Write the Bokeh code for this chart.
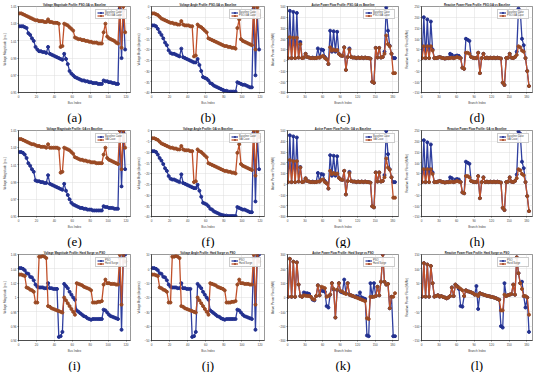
from bokeh.plotting import figure
from bokeh.layouts import gridplot
from bokeh.models import Title, Range1d, FixedTicker
from bokeh.embed import file_html
from bokeh.resources import INLINE

# ---------------- categories / ticks ----------------
bus_index = list(range(1, 120, 2))        # 60 buses (every second bus)
branch_index = list(range(1, 185, 3))     # 62 branches (every third branch)
bus_ticks = [0, 20, 40, 60, 80, 100, 120]
branch_ticks = [0, 30, 60, 90, 120, 150, 180]

# ---------------- row 1: PSO-GA vs Baseline ----------------
vm_base_a = [1.027, 1.027, 1.027, 1.026, 1.025, 1.019, 1.017, 1.013, 1.010, 1.003,
             1.000, 0.998, 0.998, 0.997, 0.997, 0.996, 1.003, 0.995, 0.994, 0.993,
             0.992, 0.991, 0.990, 0.989, 0.988, 0.995, 0.989, 0.983, 0.975, 0.972,
             0.970, 0.968, 0.967, 0.966, 0.965, 0.964, 0.964, 0.963, 0.963, 0.962,
             0.962, 0.961, 0.961, 0.961, 0.960, 0.960, 0.960, 0.964, 0.963, 0.963,
             0.962, 0.962, 0.961, 0.961, 0.960, 0.960, 1.048, 0.990, 1.045, 1.000]
vm_opt_a = [1.042, 1.042, 1.041, 1.040, 1.039, 1.038, 1.037, 1.036, 1.035, 1.034,
            1.034, 1.033, 1.033, 1.033, 1.032, 1.032, 1.035, 1.032, 1.032, 1.031,
            1.031, 1.031, 1.030, 1.003, 1.004, 1.030, 1.029, 1.028, 1.026, 1.024,
            1.022, 1.014, 1.013, 1.012, 1.012, 1.011, 1.011, 1.010, 1.010, 1.009,
            1.009, 1.008, 1.008, 1.008, 1.007, 1.007, 1.007, 1.020, 1.030, 1.015,
            1.013, 1.012, 1.011, 1.010, 1.008, 1.007, 1.050, 1.002, 1.050, 1.020]
va_base_b = [-8.8, -8.8, -9.2, -10.4, -12.0, -13.2, -14.8, -16.8, -18.0, -20.4,
             -21.6, -22.0, -22.0, -22.4, -22.8, -23.2, -19.6, -23.6, -24.0, -24.4,
             -24.8, -25.2, -25.6, -26.0, -26.0, -24.4, -27.2, -30.0, -32.8, -33.2,
             -33.6, -34.4, -35.6, -36.0, -36.8, -37.2, -37.6, -38.0, -38.4, -38.8,
             -39.2, -39.2, -39.6, -39.6, -39.6, -39.6, -39.6, -35.2, -35.6, -36.0,
             -36.4, -36.4, -36.8, -37.2, -37.6, -37.6, -1.0, -32.0, -3.0, -20.0]
va_opt_b = [-3.2, -3.2, -3.6, -4.0, -4.8, -5.6, -6.0, -6.4, -6.8, -7.2,
            -7.6, -7.6, -8.0, -8.0, -8.4, -8.4, -6.8, -8.4, -8.8, -8.8,
            -8.8, -9.2, -9.2, -23.2, -22.8, -8.4, -9.2, -9.6, -10.4, -11.2,
            -12.0, -14.8, -15.2, -15.6, -16.0, -16.4, -16.8, -17.2, -17.6, -18.0,
            -18.4, -18.4, -18.8, -18.8, -19.2, -19.2, -19.6, -10.0, -6.0, -15.2,
            -16.0, -16.4, -16.8, -17.2, -17.6, -18.0, 0.0, -20.0, -0.4, -4.0]
p_base_c = [20, 460, 20, 450, 20, 440, 25, 170, 20, 25,
            60, 30, 25, 20, 25, 20, 20, 110, 25, 100,
            95, 30, 10, -35, 275, 80, 270, 80, 265, 60,
            45, 40, 120, -90, 30, 110, 30, 25, 25, 20,
            25, 20, 25, 20, 25, 20, 20, 15, -200, -210,
            115, 25, 115, 25, 30, 80, 490, 275, 135, 60,
            20, 20]
p_opt_c = [20, 215, 20, 210, 20, 210, 25, 150, 20, 25,
           60, 30, 25, 20, 20, 20, 20, 25, 25, 35,
           40, 20, 10, -35, 120, 90, 100, 90, 95, 60,
           45, 40, 120, -90, 30, 100, 30, 25, 25, 20,
           25, 20, 25, 20, 25, 20, 20, 15, -200, -210,
           115, 25, 115, 25, 30, 60, 230, 150, 130, 60,
           -120, -120]
q_base_d = [10, 200, 10, 190, 10, 180, 50, 10, 10, 12,
            15, 12, 10, 8, 10, 10, 30, 25, 10, 20,
            22, 20, 10, -35, -40, 100, 95, 90, 15, 12,
            10, 10, 35, -60, 10, 30, 10, 12, 10, 12,
            10, 12, 10, 12, 10, 8, -105, -115, 10, 12,
            30, 12, 10, 15, 40, 240, 230, 100, 70, 10,
            -50, -120]
q_opt_d = [10, 65, 10, 65, 10, 65, 45, 10, 10, 12,
           15, 12, 10, 8, 10, 10, 10, 12, 10, 12,
           15, 12, 10, -35, -40, 35, 35, 30, 15, 12,
           10, 10, 35, -60, 10, 30, 10, 12, 10, 12,
           10, 12, 10, 12, 10, 8, -105, -115, 10, 12,
           30, 12, 10, 15, 25, 65, 60, 45, 40, 10,
           -50, -120]

# ---------------- row 2: GA vs Baseline ----------------
vm_base_e = [1.025, 1.025, 1.024, 1.022, 1.018, 1.012, 1.009, 1.005, 1.002, 0.992,
             0.991, 0.991, 0.990, 0.990, 0.989, 0.989, 0.998, 0.988, 0.987, 0.986,
             0.985, 0.984, 0.983, 0.982, 0.981, 0.988, 0.980, 0.975, 0.970, 0.966,
             0.964, 0.963, 0.962, 0.961, 0.960, 0.960, 0.959, 0.959, 0.958, 0.958,
             0.958, 0.957, 0.957, 0.957, 0.957, 0.957, 0.957, 0.962, 0.961, 0.961,
             0.960, 0.960, 0.960, 0.959, 0.959, 0.959, 1.050, 0.985, 1.048, 1.005]
vm_opt_e = [1.040, 1.040, 1.039, 1.038, 1.037, 1.036, 1.035, 1.034, 1.034, 1.033,
            1.032, 1.032, 1.031, 1.031, 1.031, 1.030, 1.034, 1.030, 1.030, 1.030,
            1.030, 1.030, 1.029, 1.001, 1.002, 1.030, 1.029, 1.028, 1.027, 1.025,
            1.023, 1.019, 1.018, 1.017, 1.016, 1.016, 1.015, 1.015, 1.014, 1.014,
            1.013, 1.013, 1.013, 1.012, 1.012, 1.012, 1.012, 1.022, 1.030, 1.018,
            1.016, 1.015, 1.014, 1.013, 1.012, 1.011, 1.050, 1.005, 1.050, 1.030]
va_base_f = [-9.6, -9.6, -10.0, -11.2, -12.8, -14.0, -15.6, -17.6, -18.8, -21.2,
             -22.4, -22.8, -22.8, -23.2, -23.6, -24.0, -20.4, -24.4, -24.8, -25.2,
             -25.6, -26.0, -26.4, -26.8, -26.8, -25.2, -28.0, -30.8, -33.6, -34.0,
             -34.4, -35.2, -36.4, -36.8, -37.6, -38.0, -38.4, -38.8, -39.2, -39.4,
             -39.6, -39.6, -39.8, -39.8, -39.8, -39.8, -39.8, -35.6, -36.0, -36.4,
             -36.8, -36.8, -37.2, -37.6, -38.0, -38.0, -1.0, -33.0, -2.0, -18.0]
va_opt_f = [-3.6, -3.6, -4.0, -4.4, -5.2, -6.0, -6.4, -6.8, -7.2, -7.6,
            -8.0, -8.0, -8.4, -8.4, -8.8, -8.8, -7.2, -8.8, -9.2, -9.2,
            -9.2, -9.6, -9.6, -24.0, -23.6, -8.8, -9.6, -10.0, -10.8, -11.6,
            -12.4, -15.2, -15.6, -16.0, -16.4, -16.8, -17.2, -17.6, -18.0, -18.4,
            -18.8, -18.8, -19.2, -19.2, -19.6, -19.6, -20.0, -10.4, -6.4, -15.6,
            -16.4, -16.8, -17.2, -17.6, -18.0, -18.4, 0.0, -21.0, -0.4, -3.0]
p_base_g = [20, 455, 20, 445, 20, 435, 25, 160, 20, 25,
            55, 30, 25, 20, 25, 20, 20, 105, 25, 95,
            90, 30, 10, -40, 270, 80, 265, 80, 260, 60,
            45, 40, 125, -95, 30, 115, 30, 25, 25, 20,
            25, 20, 25, 20, 25, 20, 20, 15, -205, -215,
            110, 25, 110, 25, 30, 85, 495, 280, 140, 65,
            20, 20]
p_opt_g = [20, 225, 20, 215, 20, 215, 25, 155, 20, 25,
           55, 30, 25, 20, 20, 20, 20, 25, 25, 40,
           45, 20, 10, -40, 125, 95, 105, 95, 100, 60,
           45, 40, 125, -95, 30, 105, 30, 25, 25, 20,
           25, 20, 25, 20, 25, 20, 20, 15, -205, -215,
           110, 25, 110, 25, 30, 65, 240, 155, 135, 65,
           -125, -125]
q_base_h = [10, 205, 10, 195, 10, 185, 55, 10, 10, 12,
            15, 12, 10, 8, 10, 10, 32, 28, 10, 22,
            24, 22, 10, -38, -42, 105, 100, 95, 15, 12,
            10, 10, 38, -65, 10, 32, 10, 12, 10, 12,
            10, 12, 10, 12, 10, 8, -110, -120, 10, 12,
            32, 12, 10, 15, 45, 245, 235, 105, 75, 10,
            -55, -125]
q_opt_h = [10, 70, 10, 70, 10, 70, 48, 10, 10, 12,
           15, 12, 10, 8, 10, 10, 10, 12, 10, 12,
           15, 12, 10, -38, -42, 38, 38, 32, 15, 12,
           10, 10, 38, -65, 10, 32, 10, 12, 10, 12,
           10, 12, 10, 12, 10, 8, -110, -120, 10, 12,
           32, 12, 10, 15, 28, 70, 65, 48, 42, 10,
           -55, -125]

# ---------------- row 3: Hard Surge vs PSO ----------------
vm_base_i = [1.041, 1.041, 1.040, 1.038, 1.034, 1.033, 1.029, 1.028, 1.024, 1.018,
             1.015, 1.014, 1.014, 1.014, 1.013, 1.013, 1.020, 1.013, 1.013, 1.012,
             1.012, 1.012, 0.945, 0.946, 0.952, 1.019, 1.016, 1.013, 1.008, 1.004,
             1.000, 0.997, 0.982, 0.980, 0.978, 0.976, 0.974, 0.973, 0.971, 0.970,
             0.969, 0.970, 0.970, 0.970, 0.970, 0.970, 0.970, 0.983, 0.982, 0.979,
             0.976, 0.974, 0.973, 0.972, 0.971, 0.970, 1.055, 0.955, 1.058, 1.060]
vm_opt_i = [1.032, 1.032, 1.031, 1.030, 1.014, 1.013, 1.011, 1.010, 1.008, 0.993,
            0.993, 1.057, 1.057, 1.058, 1.057, 1.055, 0.988, 0.987, 0.985, 0.984,
            0.983, 0.982, 0.981, 0.980, 0.979, 1.000, 0.996, 0.992, 0.988, 0.984,
            0.980, 0.976, 1.020, 1.019, 1.018, 1.017, 1.015, 1.014, 1.013, 1.012,
            1.010, 0.993, 0.993, 0.993, 0.994, 0.994, 0.995, 1.018, 1.025, 1.020,
            1.020, 1.019, 1.019, 1.019, 1.018, 1.018, 1.060, 0.990, 1.060, 1.050]
va_base_j = [0.5, 0.5, 0.0, -1.0, -3.0, -3.5, -5.5, -6.0, -8.0, -11.0,
             -12.5, -13.0, -13.0, -13.0, -13.5, -13.5, -10.0, -13.5, -13.5, -14.0,
             -14.0, -14.0, -47.5, -47.0, -44.0, -10.5, -12.0, -13.5, -16.0, -18.0,
             -20.0, -21.5, -29.0, -30.0, -31.0, -32.0, -33.0, -33.5, -34.5, -35.0,
             -35.5, -35.0, -35.0, -35.0, -35.0, -35.0, -35.0, -28.5, -29.0, -30.5,
             -32.0, -33.0, -33.5, -34.0, -34.5, -35.0, 7.5, -42.5, 9.0, 10.0]
va_opt_j = [-4.0, -4.0, -4.5, -5.0, -13.0, -13.5, -14.5, -15.0, -16.0, -23.5,
            -23.5, 8.5, 8.5, 9.0, 8.5, 7.5, -26.0, -26.5, -27.5, -28.0,
            -28.5, -29.0, -29.5, -30.0, -30.5, -20.0, -22.0, -24.0, -26.0, -28.0,
            -30.0, -32.0, -10.0, -10.5, -11.0, -11.5, -12.5, -13.0, -13.5, -14.0,
            -15.0, -23.5, -23.5, -23.5, -23.0, -23.0, -22.5, -11.0, -7.5, -10.0,
            -10.0, -10.5, -10.5, -10.5, -11.0, -11.0, 10.0, -25.0, 10.0, 5.0]
p_base_k = [5, 270, 5, 250, 5, 245, 90, 10, 5, 35,
            30, 30, 25, 5, -15, -20, 10, 85, 15, 50,
            45, 40, -60, -70, 20, 100, 55, -140, 50, 100,
            40, 35, 125, 30, 100, 20, 15, 10, 5, 10,
            5, 35, 0, -5, -10, -265, -270, 100, 5, 100,
            10, 75, 15, 110, 300, 110, 90, 95, -75, 5,
            -270, -270]
p_opt_k = [5, 270, 5, 250, 5, 245, 90, 10, 5, 15,
           12, 10, 10, 5, -10, -15, 10, 85, 15, 75,
           70, 65, 5, 10, 20, 100, 60, -140, 55, 100,
           45, 40, 30, 25, 100, 20, 15, 10, 5, 0,
           -5, -10, -15, -20, -25, -145, -150, 5, 5, 5,
           10, 75, 15, 110, 300, 110, 90, 95, -75, 5,
           5, 30]
q_base_l = [3, 120, 3, 115, 3, 110, 50, 3, 5, 8,
            3, 5, 2, 0, -3, 0, 5, 35, 5, 45,
            40, 30, -30, -32, 5, 25, 22, 20, 18, 15,
            10, 40, -40, 15, 12, 10, 8, 6, 5, 3,
            2, 0, -2, -5, -8, -100, -105, 50, 5, 8,
            10, 12, 45, 10, 140, 85, 50, 55, 5, -35,
            0, -120]
q_opt_l = [3, 120, 3, 115, 3, 110, 50, 3, 5, 8,
           3, 5, 2, 0, -3, 0, 5, 35, 5, 45,
           38, 35, 30, 25, 5, 25, 22, 20, 18, 15,
           10, 10, 5, 15, 12, 10, 8, 6, 5, 3,
           2, 0, -2, -5, -8, -45, -45, 10, 5, 8,
           10, 12, 45, 10, 140, 85, 50, 30, 5, 5,
           0, -60]

# y tick labels
vm_ticks = [0.95, 0.97, 0.99, 1.01, 1.03, 1.05]
vm3_ticks = [0.94, 0.96, 0.98, 1.00, 1.02, 1.04, 1.06]
va_ticks = [-40, -35, -30, -25, -20, -15, -10, -5, 0]
va3_ticks = [-50, -40, -30, -20, -10, 0, 10]
p_ticks = [-300, -200, -100, 0, 100, 200, 300, 400, 500]
q_ticks = [-150, -100, -50, 0, 50, 100, 150, 200, 250]
p3_ticks = [-300, -200, -100, 0, 100, 200, 300]
q3_ticks = [-150, -100, -50, 0, 50, 100, 150]

BLUE = "#2f3f9f"
BLUE_M = "#22308f"
ORANGE = "#c0502a"
ORANGE_M = "#9a4a24"


def panel(tag, title, xs, ys1, ys2, names, yticks, xticks, xmax, ylabel, xlabel):
    p = figure(width=134, height=124, output_backend="svg", toolbar_location=None,
               x_range=Range1d(0, xmax), y_range=Range1d(yticks[0], yticks[-1]),
               min_border_left=14, min_border_right=4, min_border_top=1,
               min_border_bottom=0, background_fill_color="white")
    p.title.text = title
    p.title.align = "center"
    p.title.text_font_size = "2.8px"
    p.title.text_font_style = "bold"
    p.title.text_color = "#222222"
    p.title.standoff = 1
    p.title.offset = 0
    p.outline_line_color = "#333333"
    p.outline_line_width = 0.5
    p.xaxis.ticker = FixedTicker(ticks=xticks)
    p.yaxis.ticker = FixedTicker(ticks=yticks)
    for ax in (p.xaxis[0], p.yaxis[0]):
        ax.major_label_text_font_size = "3px"
        ax.axis_label_text_font_size = "3px"
        ax.axis_label_text_font_style = "normal"
        ax.axis_label_standoff = 1
        ax.major_label_standoff = 1
        ax.major_tick_out = 1
        ax.major_tick_in = 0
        ax.minor_tick_out = 0
        ax.minor_tick_in = 0
        ax.axis_line_width = 0.5
        ax.major_tick_line_width = 0.5
    p.xaxis.axis_label = xlabel
    p.yaxis.axis_label = ylabel
    p.grid.grid_line_color = "#dcdcdc"
    p.grid.grid_line_width = 0.5

    p.line(xs, ys1, color=BLUE, line_width=1.3, legend_label=names[0])
    p.scatter(xs, ys1, size=3, color=BLUE_M, legend_label=names[0])
    p.line(xs, ys2, color=ORANGE, line_width=1.3, legend_label=names[1])
    p.scatter(xs, ys2, size=3, color=ORANGE_M, legend_label=names[1])

    lg = p.legend[0]
    lg.location = "top_right"
    lg.label_text_font_size = "2.6px"
    lg.glyph_width = 7
    lg.glyph_height = 3
    lg.label_height = 3
    lg.label_standoff = 1
    lg.spacing = 0
    lg.padding = 1
    lg.margin = 3
    lg.border_line_color = "#999999"
    lg.border_line_width = 0.4
    lg.background_fill_alpha = 0.9

    p.add_layout(Title(text=tag, align="center", text_font="Liberation Serif",
                       text_font_size="13px", text_font_style="normal",
                       text_color="black", standoff=0, offset=0), "below")
    return p


vlab = "Voltage Magnitude (p.u.)"
alab = "Voltage Angle (degrees)"
plab = "Active Power Flow (MW)"
qlab = "Reactive Power Flow (MVAr)"
row1 = ["Baseline Case", "PSO-GA Case"]
row2 = ["Baseline Case", "GA Case"]
row3 = ["PSO", "Hard Surge"]

figs = [
    [panel("(a)", "Voltage Magnitude Profile: PSO-GA vs Baseline", bus_index, vm_base_a, vm_opt_a, row1, vm_ticks, bus_ticks, 125, vlab, "Bus Index"),
     panel("(b)", "Voltage Angle Profile: PSO-GA vs Baseline", bus_index, va_base_b, va_opt_b, row1, va_ticks, bus_ticks, 125, alab, "Bus Index"),
     panel("(c)", "Active Power Flow Profile: PSO-GA vs Baseline", branch_index, p_base_c, p_opt_c, row1, p_ticks, branch_ticks, 190, plab, "Branch Index"),
     panel("(d)", "Reactive Power Flow Profile: PSO-GA vs Baseline", branch_index, q_base_d, q_opt_d, row1, q_ticks, branch_ticks, 190, qlab, "Branch Index")],
    [panel("(e)", "Voltage Magnitude Profile: GA vs Baseline", bus_index, vm_base_e, vm_opt_e, row2, vm_ticks, bus_ticks, 125, vlab, "Bus Index"),
     panel("(f)", "Voltage Angle Profile: GA vs Baseline", bus_index, va_base_f, va_opt_f, row2, va_ticks, bus_ticks, 125, alab, "Bus Index"),
     panel("(g)", "Active Power Flow Profile: GA vs Baseline", branch_index, p_base_g, p_opt_g, row2, p_ticks, branch_ticks, 190, plab, "Branch Index"),
     panel("(h)", "Reactive Power Flow Profile: GA vs Baseline", branch_index, q_base_h, q_opt_h, row2, q_ticks, branch_ticks, 190, qlab, "Branch Index")],
    [panel("(i)", "Voltage Magnitude Profile: Hard Surge vs PSO", bus_index, vm_base_i, vm_opt_i, row3, vm3_ticks, bus_ticks, 125, vlab, "Bus Index"),
     panel("(j)", "Voltage Angle Profile: Hard Surge vs PSO", bus_index, va_base_j, va_opt_j, row3, va3_ticks, bus_ticks, 125, alab, "Bus Index"),
     panel("(k)", "Active Power Flow Profile: Hard Surge vs PSO", branch_index, p_base_k, p_opt_k, row3, p3_ticks, branch_ticks, 190, plab, "Branch Index"),
     panel("(l)", "Reactive Power Flow Profile: Hard Surge vs PSO", branch_index, q_base_l, q_opt_l, row3, q3_ticks, branch_ticks, 190, qlab, "Branch Index")],
]

grid = gridplot(figs, toolbar_location=None)

open("out.html", "w").write(file_html(grid, INLINE))
